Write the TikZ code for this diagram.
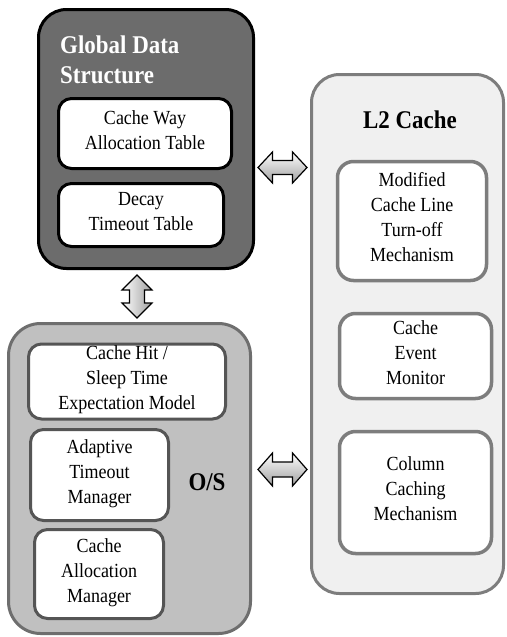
\documentclass[tikz,border=0pt]{standalone}
\usepackage{fontspec}
\setmainfont{Liberation Serif}[FakeStretch=0.9]
\usetikzlibrary{calc}
\definecolor{gdsfill}{RGB}{108,108,108}
\definecolor{osfill}{RGB}{192,192,192}
\definecolor{osline}{RGB}{110,110,110}
\definecolor{osinner}{RGB}{85,85,85}
\definecolor{lfill}{RGB}{240,240,240}
\definecolor{lline}{RGB}{125,125,125}
\newcommand{\sst}{\rule[-9.5pt]{0pt}{25pt}}
\begin{document}
\begin{tikzpicture}[x=1pt,y=-1pt,
  big/.style={line width=3pt, rounded corners=28pt, inner sep=0pt},
  gdsbox/.style={big, draw=black, fill=gdsfill},
  osbox/.style={big, draw=osline, fill=osfill},
  lbox/.style={big, draw=lline, fill=lfill},
  inbox/.style={fill=white, line width=3pt, rounded corners=13pt, inner sep=0pt,
    align=center, font=\fontsize{20}{25}\selectfont},
  gdsin/.style={inbox, draw=black},
  osin/.style={inbox, draw=osinner},
  lin/.style={inbox, draw=lline, line width=3.5pt, rounded corners=16pt},
  titlefont/.style={font=\fontsize{25.5}{30}\selectfont\bfseries, inner sep=0pt},
  blockarrow/.style={draw=black, line width=1.2pt, line join=miter},
  harrow/.style={blockarrow, top color=white, bottom color=gray!75},
  varrow/.style={blockarrow, left color=white, right color=gray!75}]
\useasboundingbox (0,0) rectangle (506,637);

% Global Data Structure
\node[gdsbox, minimum width=215pt, minimum height=259pt] (gds) at (146,139) {};
\node[titlefont, text=white, align=left, anchor=north west] (gdst) at (60,32)
  {\rule[-9pt]{0pt}{30pt}Global Data\\\rule[-9pt]{0pt}{30pt}Structure};
\node[gdsin, minimum width=173pt, minimum height=70pt] (cwat) at (145,133.5)
  {\sst Cache Way\\\sst Allocation Table};
\node[gdsin, minimum width=165pt, minimum height=63pt] (dtt) at (141,215)
  {\sst Decay\\\sst Timeout Table};

% O/S
\node[osbox, minimum width=242pt, minimum height=310pt, rounded corners=32pt] (os) at (129.5,478.5) {};
\node[osin, minimum width=197pt, minimum height=74pt] (chit) at (127,381.5)
  {\sst Cache Hit /\\\sst Sleep Time\\\sst Expectation Model};
\node[osin, minimum width=138pt, minimum height=91pt] (atm) at (99.5,475)
  {\sst Adaptive\\\sst Timeout\\\sst Manager};
\node[osin, minimum width=129pt, minimum height=89pt] (cam) at (99,574)
  {\sst Cache\\\sst Allocation\\\sst Manager};
\node[titlefont, anchor=base] (ost) at (207,490) {O/S};

% L2 Cache
\node[lbox, minimum width=192pt, minimum height=519pt] (l2) at (407.5,334) {};
\node[titlefont, anchor=base] (l2t) at (410,128) {L2 Cache};
\node[lin, minimum width=149pt, minimum height=119pt] (mod) at (412,221)
  {\sst Modified\\\sst Cache Line\\\sst Turn-off\\\sst Mechanism};
\node[lin, minimum width=152pt, minimum height=85pt] (cem) at (415.5,356)
  {\sst Cache\\\sst Event\\\sst Monitor};
\node[lin, minimum width=152pt, minimum height=122pt] (ccm) at (415.5,492.5)
  {\sst Column\\\sst Caching\\\sst Mechanism};

% block arrows
\coordinate (h1) at ($(gds.east)!0.5!(l2.west)$);
\coordinate (a1) at (h1 |- 0,167.5);
\coordinate (a2) at (h1 |- 0,469.5);
\coordinate (a3) at (137,296.5);
\draw[harrow, shift={(a1)}] (-24.5,0) -- (-10,-15.5) -- (-10,-7) -- (10,-7) -- (10,-15.5)
  -- (24.5,0) -- (10,15.5) -- (10,7) -- (-10,7) -- (-10,15.5) -- cycle;
\draw[harrow, shift={(a2)}] (-24.5,0) -- (-10,-16.5) -- (-10,-7.5) -- (10,-7.5) -- (10,-16.5)
  -- (24.5,0) -- (10,16.5) -- (10,7.5) -- (-10,7.5) -- (-10,16.5) -- cycle;
\draw[varrow, shift={(a3)}] (0,-21.5) -- (15,-6.5) -- (7.5,-6.5) -- (7.5,6.5) -- (15,6.5)
  -- (0,21.5) -- (-15,6.5) -- (-7.5,6.5) -- (-7.5,-6.5) -- (-15,-6.5) -- cycle;
\end{tikzpicture}
\end{document}
